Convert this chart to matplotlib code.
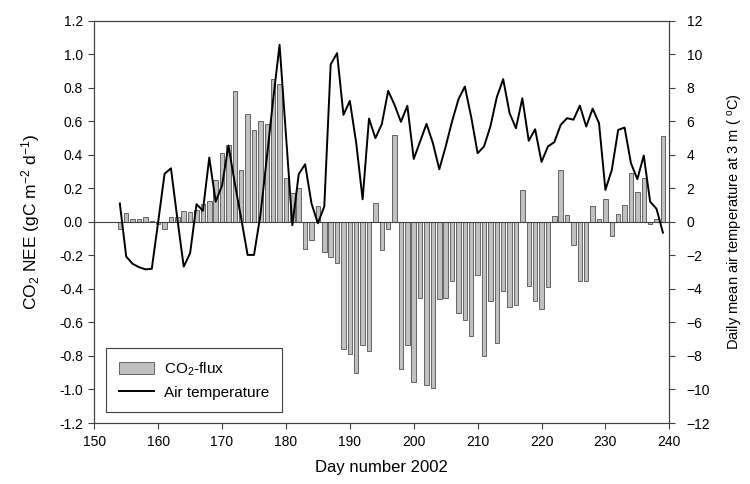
import matplotlib
matplotlib.use('Agg')
import matplotlib.pyplot as plt
from matplotlib.patches import Patch
from matplotlib.lines import Line2D

plt.rcParams['font.family'] = ['Liberation Sans', 'DejaVu Sans']
plt.rcParams['mathtext.fontset'] = 'custom'
plt.rcParams['mathtext.rm'] = 'Liberation Sans'
plt.rcParams['mathtext.it'] = 'Liberation Sans'

# day of year 2002
days = list(range(154, 240))

# daily CO2 NEE (gC m-2 d-1)
flux = [-0.04, 0.055, 0.02, 0.015, 0.03, 0.005, -0.01, -0.045, 0.03, 0.03,
        0.065, 0.06, 0.07, 0.105, 0.125, 0.25, 0.41, 0.46, 0.78, 0.31,
        0.645, 0.55, 0.605, 0.585, 0.85, 0.82, 0.265, 0.175, 0.2, -0.16,
        -0.11, 0.095, -0.18, -0.21, -0.245, -0.76, -0.79, -0.9, -0.735, -0.77,
        0.115, -0.165, -0.04, 0.52, -0.88, -0.735, -0.955, -0.455, -0.975, -0.99,
        -0.46, -0.455, -0.355, -0.545, -0.585, -0.68, -0.315, -0.8, -0.47, -0.725,
        -0.415, -0.51, -0.495, 0.19, -0.38, -0.47, -0.52, -0.39, 0.036, 0.31,
        0.04, -0.14, -0.355, -0.355, 0.095, 0.018, 0.135, -0.085, 0.045, 0.1,
        0.29, 0.18, 0.265, -0.015, 0.02, 0.515]

# daily mean air temperature at 3 m (C)
temp = [1.1, -2.07, -2.5, -2.7, -2.83, -2.8, 0.0, 2.87, 3.2, 0.2,
        -2.67, -1.87, 1.06, 0.66, 3.84, 1.21, 2.17, 4.56, 2.3, 0.2,
        -1.97, -1.97, 0.4, 3.8, 7.3, 10.57, 5.2, -0.2, 2.85, 3.44,
        1.1, -0.08, 0.92, 9.4, 10.07, 6.39, 7.22, 4.7, 1.35, 6.17,
        5.0, 5.83, 7.82, 6.98, 5.97, 6.93, 3.76, 4.8, 5.85, 4.7,
        3.14, 4.5, 6.0, 7.32, 8.08, 6.25, 4.1, 4.5, 5.7, 7.44,
        8.52, 6.49, 5.59, 7.38, 4.84, 5.53, 3.58, 4.5, 4.76, 5.79,
        6.19, 6.1, 6.94, 5.69, 6.76, 5.89, 1.91, 3.1, 5.49, 5.63,
        3.5, 2.55, 3.96, 1.21, 0.78, -0.64]

left_ticks = [-1.2, -1.0, -0.8, -0.6, -0.4, -0.2, 0.0, 0.2, 0.4, 0.6, 0.8, 1.0, 1.2]
right_ticks = [-12, -10, -8, -6, -4, -2, 0, 2, 4, 6, 8, 10, 12]
x_ticks = [150, 160, 170, 180, 190, 200, 210, 220, 230, 240]

fig = plt.figure(figsize=(7.5, 4.84), dpi=100)
ax = fig.add_axes([0.1257, 0.126, 0.7667, 0.831])

bar_col = '#c0c0c0'
edge_col = '#505050'
ax.bar(days, flux, width=0.7, color=bar_col, edgecolor=edge_col, linewidth=0.6, zorder=2)
ax.axhline(0, color='#404040', linewidth=0.8, zorder=3)

ax.set_xlim(150, 240)
ax.set_ylim(-1.2, 1.2)
ax.set_xticks(x_ticks)
ax.set_yticks(left_ticks)
ax.set_yticklabels(['%.1f' % v for v in left_ticks])
ax.tick_params(direction='out', length=4.5, width=0.8, color='#404040', labelsize=10)
ax.tick_params(axis='x', pad=4)
ax.set_xlabel('Day number 2002', fontsize=12, labelpad=8)
ax.set_ylabel('CO$_2$ NEE (gC m$^{-2}$ d$^{-1}$)', fontsize=12.5, labelpad=12)

ax2 = ax.twinx()
ax2.plot(days, temp, color='black', linewidth=1.4, zorder=4)
ax2.set_ylim(-12, 12)
ax2.set_yticks(right_ticks)
ax2.tick_params(direction='out', length=4.5, width=0.8, color='#404040', labelsize=10, pad=8)
ax2.set_ylabel('Daily mean air temperature at 3 m ( $^{o}$C)', fontsize=10.5, labelpad=11)

for a in (ax, ax2):
    for s in a.spines.values():
        s.set_color('#404040')
        s.set_linewidth(0.8)

handles = [Patch(facecolor=bar_col, edgecolor=edge_col, linewidth=0.6),
           Line2D([], [], color='black', linewidth=1.4)]
leg = ax2.legend(handles, ['CO$_2$-flux', 'Air temperature'], loc='lower left',
                 bbox_to_anchor=(0.021, 0.027), borderaxespad=0, fontsize=11,
                 fancybox=False, framealpha=1, edgecolor='#404040', borderpad=0.8,
                 handlelength=2.3, handleheight=0.9, handletextpad=0.7)
leg.get_frame().set_linewidth(0.8)

fig.savefig('out.png', dpi=100)
